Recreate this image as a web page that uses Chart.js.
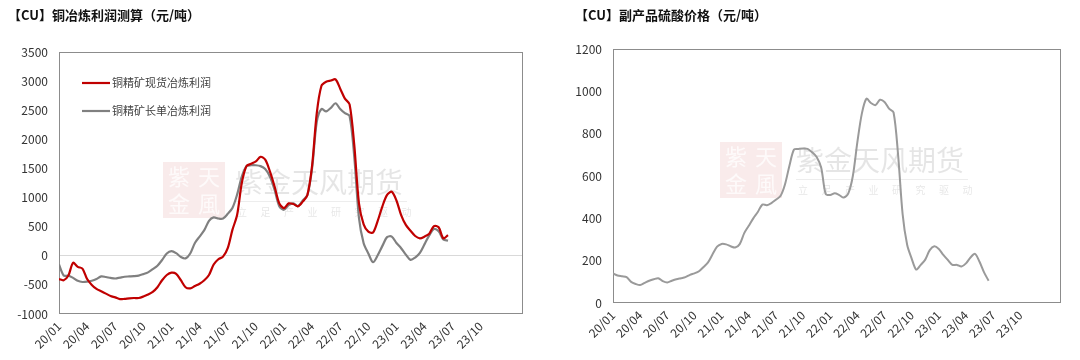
<!DOCTYPE html>
<html>
<head>
<meta charset="utf-8">
<script src="https://cdn.jsdelivr.net/npm/chart.js@4.4.1/dist/chart.umd.min.js"></script>
<style>
  html, body { margin: 0; padding: 0; background: #fff; width: 1080px; height: 360px; overflow: hidden; }
  .box { position: absolute; top: 0; height: 360px; }
  #leftBox { left: 8px; width: 532px; }
  #rightBox { left: 575px; width: 505px; }
</style>
</head>
<body>
<div class="box" id="leftBox"><canvas id="profitChart"></canvas></div>
<div class="box" id="rightBox"><canvas id="acidChart"></canvas></div>
<script>
// semi-monthly samples
const dates = [
  '2020-01-01','2020-01-16','2020-02-01','2020-02-16','2020-03-01','2020-03-16','2020-04-01','2020-04-16',
  '2020-05-01','2020-05-16','2020-06-01','2020-06-16','2020-07-01','2020-07-16','2020-08-01','2020-08-16',
  '2020-09-01','2020-09-16','2020-10-01','2020-10-16','2020-11-01','2020-11-16','2020-12-01','2020-12-16',
  '2021-01-01','2021-01-16','2021-02-01','2021-02-16','2021-03-01','2021-03-16','2021-04-01','2021-04-16',
  '2021-05-01','2021-05-16','2021-06-01','2021-06-16','2021-07-01','2021-07-16','2021-08-01','2021-08-16',
  '2021-09-01','2021-09-16','2021-10-01','2021-10-16','2021-11-01','2021-11-16','2021-12-01','2021-12-16',
  '2022-01-01','2022-01-16','2022-02-01','2022-02-16','2022-03-01','2022-03-16','2022-04-01','2022-04-16',
  '2022-05-01','2022-05-16','2022-06-01','2022-06-16','2022-07-01','2022-07-16','2022-08-01','2022-08-16',
  '2022-09-01','2022-09-16','2022-10-01','2022-10-16','2022-11-01','2022-11-16','2022-12-01','2022-12-16',
  '2023-01-01','2023-01-16','2023-02-01','2023-02-16','2023-03-01','2023-03-16','2023-04-01','2023-04-16',
  '2023-05-01','2023-05-16','2023-06-01','2023-06-16'
];

const spotProfit = [
  -400, -420, -340, -120, -190, -220, -400, -500, -570, -610, -650, -690,
  -715, -745, -740, -730, -725, -725, -700, -665, -620, -540, -420, -330,
  -290, -310, -420, -540, -560, -520, -480, -420, -330, -150, -60, -15,
  130, 445, 700, 1250, 1540, 1580, 1620, 1700, 1650, 1450, 1190, 900,
  820, 900, 890, 850, 930, 1045, 1550, 2450, 2920, 2990, 3010, 3030,
  2870, 2700, 2600, 1900, 900, 540, 415, 400, 600, 850, 1045, 1100,
  950, 700, 530, 430, 340, 300, 330, 380, 510, 490, 300, 355
];

const longTermProfit = [
  -150, -340, -340, -380, -430, -450, -445, -430, -400, -355, -365, -380,
  -390, -375, -360, -355, -350, -340, -315, -285, -230, -170, -72, 40,
  80, 45, -20, -45, 40, 220, 330, 440, 600, 660, 640, 640,
  720, 820, 1050, 1360, 1540, 1555, 1555, 1540, 1490, 1360, 1130, 850,
  790, 870, 900, 850, 950, 1045, 1500, 2300, 2520, 2480, 2540, 2620,
  2520, 2450, 2400, 1700, 650, 215, 40, -110, 10, 170, 320, 330,
  220, 130, 20, -70, -30, 50, 200, 350, 460, 420, 280, 260
];

const acidPrice = [
  140, 130, 126, 122, 100, 90, 85, 95, 105, 112, 117, 103,
  97, 105, 112, 117, 122, 133, 140, 150, 170, 192, 230, 266,
  279, 277, 268, 262, 278, 330, 365, 400, 430, 465, 462, 472,
  488, 505, 560, 650, 725, 728, 730, 728, 712, 690, 640, 515,
  510, 518, 510, 498, 518, 600, 760, 896, 965, 945, 935, 960,
  950, 918, 900, 700, 420, 275, 210, 158, 180, 205, 250, 268,
  255, 227, 203, 180, 180, 172, 187, 215, 232, 195, 145, 105
];

const quarterLabels = [
  '20/01', '20/04', '20/07', '20/10', '21/01', '21/04', '21/07', '21/10',
  '22/01', '22/04', '22/07', '22/10', '23/01', '23/04', '23/07', '23/10'
];

const FONT = '"Noto Sans CJK SC", "Noto Sans", sans-serif';

// months since 2020/01
function monthOffset(d) {
  const [y, m, day] = d.split('-').map(Number);
  return (y - 2020) * 12 + (m - 1) + (day - 1) / 30;
}

function points(values) {
  return values.map((v, i) => ({ x: monthOffset(dates[i]), y: v }));
}

const framePlugin = {
  id: 'frame',
  beforeDatasetsDraw(chart) {
    const { ctx, chartArea: a } = chart;
    ctx.save();
    ctx.strokeStyle = '#8c8c8c';
    ctx.lineWidth = 1;
    ctx.strokeRect(Math.round(a.left) + 0.5, Math.round(a.top) + 0.5,
      Math.round(a.right - a.left) - 1, Math.round(a.bottom - a.top) - 1);
    ctx.restore();
  }
};

const watermarkPlugin = {
  id: 'watermark',
  beforeDatasetsDraw(chart, args, opts) {
    if (!opts || opts.logoX == null) return;
    const ctx = chart.ctx;
    const { logoX, logoY, textX, textY } = opts;
    ctx.save();
    ctx.fillStyle = 'rgba(205, 90, 90, 0.12)';
    ctx.fillRect(logoX, logoY, 62, 56);
    ctx.fillStyle = 'rgba(255, 255, 255, 0.75)';
    ctx.font = `22px ${FONT}`;
    ctx.textAlign = 'center';
    ctx.textBaseline = 'middle';
    ctx.fillText('紫', logoX + 16, logoY + 15);
    ctx.fillText('天', logoX + 46, logoY + 15);
    ctx.fillText('金', logoX + 16, logoY + 42);
    ctx.fillText('風', logoX + 46, logoY + 42);

    ctx.fillStyle = 'rgba(0, 0, 0, 0.1)';
    ctx.font = `28px ${FONT}`;
    ctx.textAlign = 'left';
    ctx.fillText('紫金天风期货', textX, textY);
    ctx.strokeStyle = 'rgba(0, 0, 0, 0.07)';
    ctx.beginPath();
    ctx.moveTo(textX, textY + 19.5);
    ctx.lineTo(textX + 172, textY + 19.5);
    ctx.stroke();
    ctx.font = `10px ${FONT}`;
    '立足产业研究驱动'.split('').forEach((c, i) => {
      ctx.fillText(c, textX + 2 + i * 23.5, textY + 30);
    });
    ctx.restore();
  }
};

const innerLegendPlugin = {
  id: 'innerLegend',
  afterDatasetsDraw(chart, args, opts) {
    if (!opts || !opts.x) return;
    const ctx = chart.ctx;
    ctx.save();
    ctx.font = `11px ${FONT}`;
    ctx.textBaseline = 'middle';
    ctx.textAlign = 'left';
    chart.data.datasets.forEach((ds, i) => {
      const y = opts.y + i * opts.gap;
      ctx.strokeStyle = ds.borderColor;
      ctx.lineWidth = 2.2;
      ctx.beginPath();
      ctx.moveTo(opts.x, y);
      ctx.lineTo(opts.x + 28, y);
      ctx.stroke();
      ctx.fillStyle = '#404040';
      ctx.fillText(ds.label, opts.x + 30, y);
    });
    ctx.restore();
  }
};

function xScale(height) {
  return {
    type: 'linear',
    min: 0,
    max: 49.5,
    afterBuildTicks: (scale) => {
      scale.ticks = quarterLabels.map((_, i) => ({ value: i * 3 }));
    },
    afterFit: (scale) => { scale.height = height; },
    grid: { display: false, drawTicks: false },
    border: { display: false },
    ticks: {
      autoSkip: false,
      maxRotation: 45,
      minRotation: 45,
      padding: 5,
      color: '#333',
      font: { family: FONT, size: 12 },
      callback: (value) => quarterLabels[Math.round(value / 3)]
    }
  };
}

function yScale(min, max, step, width, zeroLine) {
  return {
    min,
    max,
    afterFit: (scale) => { scale.width = width; },
    border: { display: false },
    grid: {
      drawTicks: false,
      color: (c) => (zeroLine && c.tick && c.tick.value === 0 ? '#d9d9d9' : 'rgba(0,0,0,0)')
    },
    ticks: {
      stepSize: step,
      padding: 11,
      color: '#333',
      font: { family: FONT, size: 12 },
      callback: (value) => String(value)
    }
  };
}

function titleOpts(text, bottom) {
  return {
    display: true,
    text,
    align: 'start',
    color: '#111',
    font: { family: FONT, size: 13, weight: 'bold' },
    padding: { top: 7, bottom }
  };
}

new Chart(document.getElementById('profitChart'), {
  type: 'line',
  data: {
    datasets: [
      {
        label: '铜精矿现货冶炼利润',
        data: points(spotProfit),
        borderColor: '#c00000',
        borderWidth: 2.2,
        pointRadius: 0,
        tension: 0.3
      },
      {
        label: '铜精矿长单冶炼利润',
        data: points(longTermProfit),
        borderColor: '#808080',
        borderWidth: 2.2,
        pointRadius: 0,
        tension: 0.3
      }
    ]
  },
  options: {
    responsive: true,
    maintainAspectRatio: false,
    animation: false,
    devicePixelRatio: 1,
    layout: { padding: { left: 0, right: 17, top: 0, bottom: 0 } },
    scales: {
      x: xScale(46),
      y: yScale(-1000, 3500, 500, 51, true)
    },
    plugins: {
      legend: { display: false },
      tooltip: { enabled: false },
      title: titleOpts('【CU】铜冶炼利润测算（元/吨）', 29.4),
      watermark: { logoX: 155, logoY: 162, textX: 227, textY: 182 },
      innerLegend: { x: 74, y: 83, gap: 28 }
    }
  },
  plugins: [framePlugin, watermarkPlugin, innerLegendPlugin]
});

new Chart(document.getElementById('acidChart'), {
  type: 'line',
  data: {
    datasets: [
      {
        label: '硫酸价格',
        data: points(acidPrice),
        borderColor: '#9a9a9a',
        borderWidth: 2,
        pointRadius: 0,
        tension: 0.3
      }
    ]
  },
  options: {
    responsive: true,
    maintainAspectRatio: false,
    animation: false,
    devicePixelRatio: 1,
    layout: { padding: { left: 0, right: 19, top: 0, bottom: 0 } },
    scales: {
      x: xScale(57),
      y: yScale(0, 1200, 200, 38, false)
    },
    plugins: {
      legend: { display: false },
      tooltip: { enabled: false },
      title: titleOpts('【CU】副产品硫酸价格（元/吨）', 26.4),
      watermark: { logoX: 145, logoY: 142, textX: 221, textY: 160 }
    }
  },
  plugins: [framePlugin, watermarkPlugin]
});
</script>
</body>
</html>
